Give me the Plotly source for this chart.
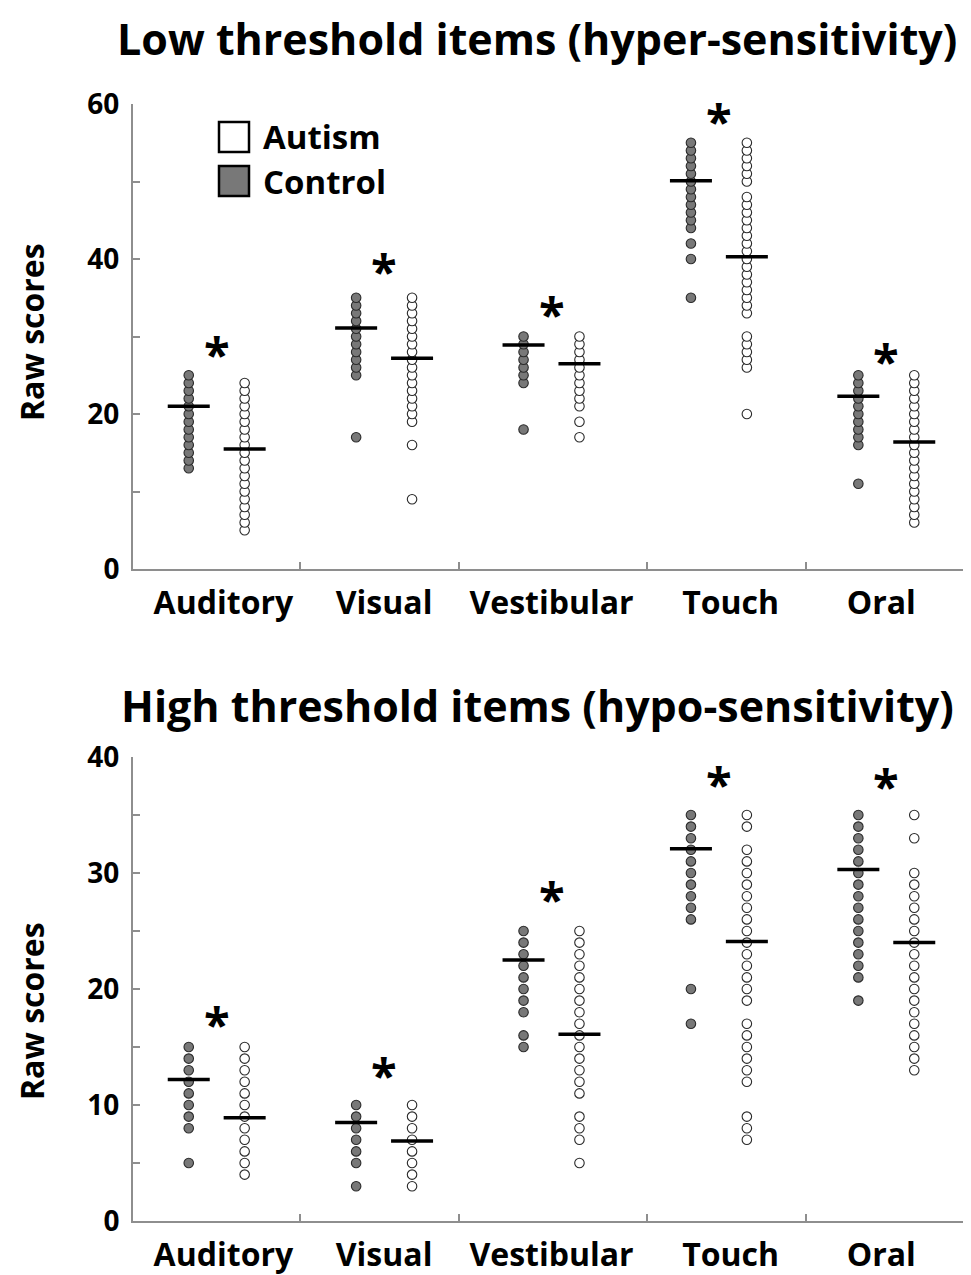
import plotly.graph_objects as go

categories = ["Auditory", "Visual", "Vestibular", "Touch", "Oral"]

# ---------- Low threshold items (hyper-sensitivity) ----------
low_control = [
    [13, 14, 15, 16, 17, 18, 19, 20, 21, 22, 23, 24, 25],
    [17, 25, 26, 27, 28, 29, 30, 31, 32, 33, 34, 35],
    [18, 24, 25, 26, 27, 28, 29, 30],
    [35, 40, 42, 44, 45, 46, 47, 48, 49, 50, 51, 52, 53, 54, 55],
    [11, 16, 17, 18, 19, 20, 21, 22, 23, 24, 25],
]
low_autism = [
    [5, 6, 7, 8, 9, 10, 11, 12, 13, 14, 15, 16, 17, 18, 19, 20, 21, 22, 23, 24],
    [9, 16, 19, 20, 21, 22, 23, 24, 25, 26, 27, 28, 29, 30, 31, 32, 33, 34, 35],
    [17, 19, 21, 22, 23, 24, 25, 26, 27, 28, 29, 30],
    [20, 26, 27, 28, 29, 30, 33, 34, 35, 36, 37, 38, 39, 40, 41, 42, 43, 44, 45,
     46, 47, 48, 50, 51, 52, 53, 54, 55],
    [6, 7, 8, 9, 10, 11, 12, 13, 14, 15, 16, 17, 18, 19, 20, 21, 22, 23, 24, 25],
]
low_mean_control = [21.0, 31.1, 28.9, 50.1, 22.3]
low_mean_autism = [15.5, 27.2, 26.5, 40.3, 16.4]
low_star_y = [28.5, 39.2, 33.7, 58.6, 27.6]

# ---------- High threshold items (hypo-sensitivity) ----------
high_control = [
    [5, 8, 9, 10, 11, 12, 13, 14, 15],
    [3, 5, 6, 7, 8, 9, 10],
    [15, 16, 18, 19, 20, 21, 22, 23, 24, 25],
    [17, 20, 26, 27, 28, 29, 30, 31, 32, 33, 34, 35],
    [19, 21, 22, 23, 24, 25, 26, 27, 28, 29, 30, 31, 32, 33, 34, 35],
]
high_autism = [
    [4, 5, 6, 7, 8, 9, 10, 11, 12, 13, 14, 15],
    [3, 4, 5, 6, 7, 8, 9, 10],
    [5, 7, 8, 9, 11, 12, 13, 14, 15, 16, 17, 18, 19, 20, 21, 22, 23, 24, 25],
    [7, 8, 9, 12, 13, 14, 15, 16, 17, 19, 20, 21, 22, 23, 24, 25, 26, 27, 28,
     29, 30, 31, 32, 34, 35],
    [13, 14, 15, 16, 17, 18, 19, 20, 21, 22, 23, 24, 25, 26, 27, 28, 29, 30, 33, 35],
]
high_mean_control = [12.2, 8.5, 22.5, 32.1, 30.3]
high_mean_autism = [8.9, 6.9, 16.1, 24.1, 24.0]
high_star_y = [17.5, 13.1, 28.3, 38.2, 38.0]

panels = [
    dict(title="Low threshold items (hyper-sensitivity)", control=low_control, autism=low_autism,
         mc=low_mean_control, ma=low_mean_autism, star=low_star_y,
         ymax=60, ytick_major=[0, 20, 40, 60], ytick_minor=[10, 30, 50]),
    dict(title="High threshold items (hypo-sensitivity)", control=high_control, autism=high_autism,
         mc=high_mean_control, ma=high_mean_autism, star=high_star_y,
         ymax=40, ytick_major=[0, 10, 20, 30, 40], ytick_minor=[5, 15, 25, 35]),
]

# ---------- layout geometry (screen pixels of the reference) ----------
PAGE_OFFSET = 8  # default body margin of the html page
W, H = 971 - PAGE_OFFSET, 1275 - PAGE_OFFSET
FONT = "Open Sans"
OFFSET = 0.167
label_pos = [0.04, 1.0, 2.0, 3.07, 3.97]
boundary_ticks = [0.5, 1.45, 2.57, 3.52, 4.49]
plot_px = [(104, 569), (757, 1221)]  # top/bottom pixel of each plot area
x_px = (133, 970)
title_px = [38, 705]
ytitle_px = [332, 1011]
ytitle_x = 31

def px(x):
    return (x - PAGE_OFFSET) / W

def py(y):
    return 1 - (y - PAGE_OFFSET) / H

CONTROL_FILL = "#787878"
EDGE = "#2a2a2a"
AXIS_GREY = "#8e8e8e"

fig = go.Figure()
annotations = []
shapes = []

for k, p in enumerate(panels):
    xa = "x" if k == 0 else "x2"
    ya = "y" if k == 0 else "y2"
    for i, cat in enumerate(categories):
        xc = i - OFFSET
        xaut = i + OFFSET
        fig.add_trace(go.Scatter(
            x=[xc] * len(p["control"][i]), y=p["control"][i], mode="markers",
            marker=dict(size=9.5, color=CONTROL_FILL, line=dict(color=EDGE, width=1.1)),
            xaxis=xa, yaxis=ya, showlegend=False, hoverinfo="y"))
        fig.add_trace(go.Scatter(
            x=[xaut] * len(p["autism"][i]), y=p["autism"][i], mode="markers",
            marker=dict(size=9.5, color="white", line=dict(color=EDGE, width=1.1)),
            xaxis=xa, yaxis=ya, showlegend=False, hoverinfo="y"))
    # mean bars
    fig.add_trace(go.Scatter(
        x=[i - OFFSET for i in range(5)] + [i + OFFSET for i in range(5)],
        y=p["mc"] + p["ma"], mode="markers",
        marker=dict(symbol="line-ew", size=30, line=dict(color="black", width=3.5)),
        xaxis=xa, yaxis=ya, showlegend=False, hoverinfo="y"))
    # significance asterisks
    for i in range(5):
        annotations.append(dict(
            x=i, y=p["star"][i], xref=xa, yref=ya, text="<b>*</b>", showarrow=False,
            font=dict(family=FONT, size=47, color="black"), yshift=-6))
    # titles
    annotations.append(dict(
        x=px(537), y=py(title_px[k]), xref="paper", yref="paper", text="<b>%s</b>" % p["title"],
        showarrow=False, font=dict(family=FONT, size=43, color="black"),
        xanchor="center", yanchor="middle"))
    annotations.append(dict(
        x=px(ytitle_x), y=py(ytitle_px[k]), xref="paper", yref="paper",
        text="<b>Raw scores</b>", textangle=-90, showarrow=False,
        font=dict(family=FONT, size=32, color="black"), xanchor="center", yanchor="middle"))

    top, bot = plot_px[k]
    axis_common = dict(showline=True, linecolor=AXIS_GREY, linewidth=2, zeroline=False,
                       showgrid=False, automargin=False)
    fig.layout["xaxis" if k == 0 else "xaxis2"] = dict(
        axis_common, domain=[px(x_px[0]), px(x_px[1])], range=[-0.5, 4.5],
        tickmode="array", tickvals=label_pos, ticktext=["<b>%s</b>" % c for c in categories],
        ticks="", ticklabelstandoff=5,
        tickfont=dict(family=FONT, size=32, color="black"),
        minor=dict(tickmode="array", tickvals=boundary_ticks, ticks="inside", ticklen=7,
                   tickcolor=AXIS_GREY, tickwidth=1.5),
        anchor=ya)
    fig.layout["yaxis" if k == 0 else "yaxis2"] = dict(
        axis_common, domain=[py(bot), py(top)], range=[0, p["ymax"]],
        tickmode="array", tickvals=p["ytick_major"],
        ticktext=["<b>%d</b>" % v for v in p["ytick_major"]],
        ticks="inside", ticklen=7, tickcolor=AXIS_GREY, tickwidth=1.5, ticklabelstandoff=6,
        tickfont=dict(family=FONT, size=28, color="black"),
        minor=dict(tickmode="array", tickvals=p["ytick_minor"], ticks="inside", ticklen=7,
                   tickcolor=AXIS_GREY, tickwidth=1.5),
        anchor=xa)

# legend (drawn manually)
legend_items = [("Autism", "white", 137), ("Control", CONTROL_FILL, 181)]
for name, fill, yc in legend_items:
    shapes.append(dict(type="rect", xref="paper", yref="paper",
                       x0=px(219), x1=px(249), y0=py(yc + 15), y1=py(yc - 15),
                       fillcolor=fill, line=dict(color="black", width=2.5)))
    annotations.append(dict(x=px(261), y=py(yc), xref="paper", yref="paper",
                            text="<b>%s</b>" % name, showarrow=False, xanchor="left",
                            yanchor="middle", font=dict(family=FONT, size=33, color="black")))

fig.update_layout(
    width=W, height=H, margin=dict(l=0, r=0, t=0, b=0, pad=0, autoexpand=False),
    paper_bgcolor="white", plot_bgcolor="white",
    annotations=annotations, shapes=shapes, showlegend=False,
)

fig.write_html("out.html")
